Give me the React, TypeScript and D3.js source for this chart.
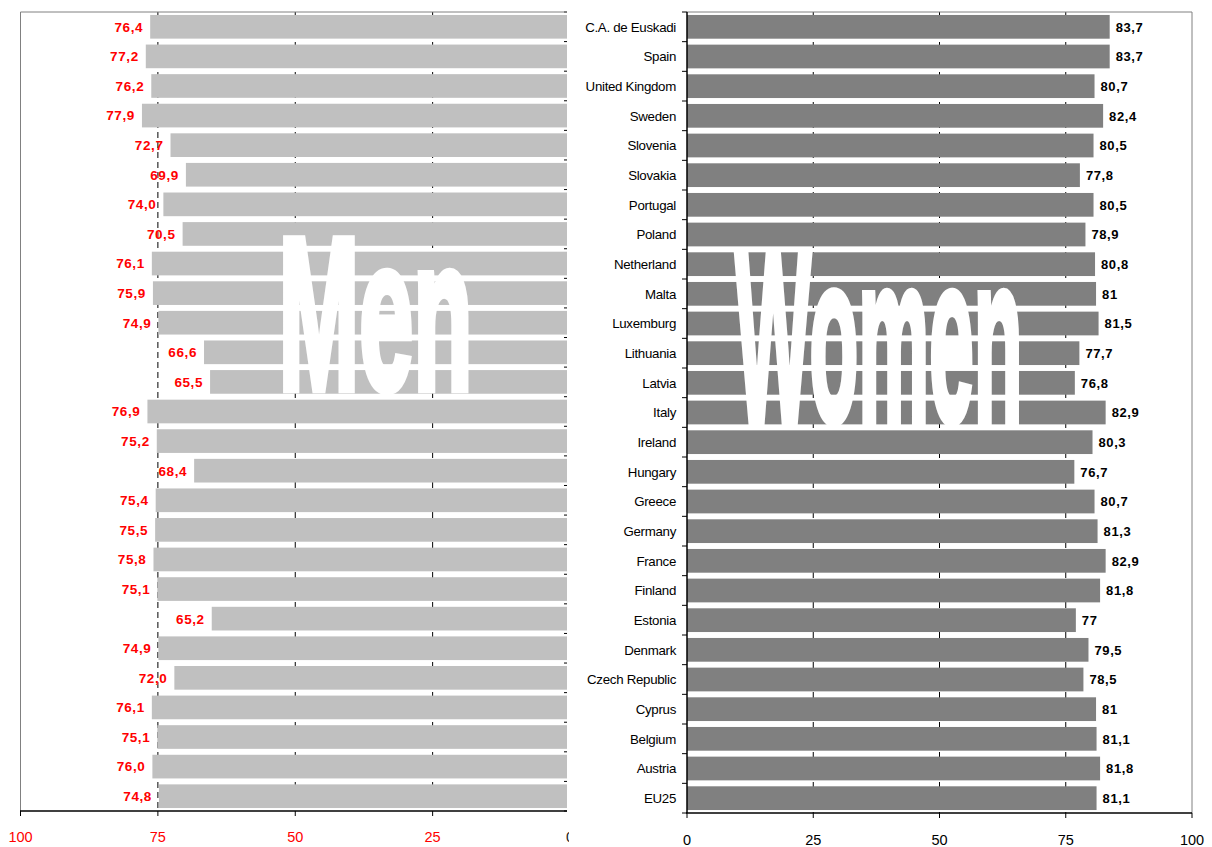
import React from "react";
import * as d3 from "d3";

// Life expectancy at birth, by country (top to bottom)
const countries = [
  "C.A. de Euskadi", "Spain", "United Kingdom", "Sweden", "Slovenia", "Slovakia",
  "Portugal", "Poland", "Netherland", "Malta", "Luxemburg", "Lithuania", "Latvia",
  "Italy", "Ireland", "Hungary", "Greece", "Germany", "France", "Finland",
  "Estonia", "Denmark", "Czech Republic", "Cyprus", "Belgium", "Austria", "EU25",
];

const men = [
  76.4, 77.2, 76.2, 77.9, 72.7, 69.9, 74.0, 70.5, 76.1, 75.9, 74.9, 66.6, 65.5,
  76.9, 75.2, 68.4, 75.4, 75.5, 75.8, 75.1, 65.2, 74.9, 72.0, 76.1, 75.1, 76.0, 74.8,
];

const women = [
  83.7, 83.7, 80.7, 82.4, 80.5, 77.8, 80.5, 78.9, 80.8, 81, 81.5, 77.7, 76.8,
  82.9, 80.3, 76.7, 80.7, 81.3, 82.9, 81.8, 77, 79.5, 78.5, 81, 81.1, 81.8, 81.1,
];

const valueTicks = [0, 25, 50, 75, 100];
const gridTicks = [25, 50, 75];

const W = 1212;
const H = 847;

const TOP = 12;
const LEFT_BOTTOM = 811;
const RIGHT_BOTTOM = 813;
const LEFT_CLIP = 567;
const LEFT_LABEL_CLIP = 569;

const fmtMen = (v: number) => v.toFixed(1).replace(".", ",");
const fmtWomen = (v: number) => String(v).replace(".", ",");

const FONT = "'Liberation Sans', Arial, sans-serif";

export default function App() {
  // Men panel: reversed value axis, clipped on the right
  const xMen = d3.scaleLinear().domain([100, 0]).range([20.5, 570]);
  const yMen = d3
    .scaleBand<string>()
    .domain(countries)
    .range([TOP, LEFT_BOTTOM])
    .paddingInner(0.2)
    .paddingOuter(0.1);

  // Women panel
  const xWomen = d3.scaleLinear().domain([0, 100]).range([687, 1192]);
  const yWomen = d3
    .scaleBand<string>()
    .domain(countries)
    .range([TOP, RIGHT_BOTTOM])
    .paddingInner(0.2)
    .paddingOuter(0.1);

  const boundaries = (y: d3.ScaleBand<string>, top: number, bottom: number) => {
    const s = y.step();
    const pts = [top];
    countries.slice(1).forEach((c) => pts.push((y(c) as number) - (s * y.paddingInner()) / 2));
    pts.push(bottom);
    return pts;
  };

  const menBounds = boundaries(yMen, TOP, LEFT_BOTTOM);
  const womenBounds = boundaries(yWomen, TOP, RIGHT_BOTTOM);

  return (
    <svg
      width={W}
      height={H}
      style={{ position: "absolute", left: 0, top: 0, background: "#fff" }}
      fontFamily={FONT}
    >
      <defs>
        <clipPath id="menClip">
          <rect x={0} y={0} width={LEFT_CLIP} height={H} />
        </clipPath>
        <clipPath id="menLabelClip">
          <rect x={0} y={0} width={LEFT_LABEL_CLIP} height={H} />
        </clipPath>
      </defs>

      {/* ---------- Men ---------- */}
      <g clipPath="url(#menClip)">
        {gridTicks.map((t) => (
          <line
            key={"mg" + t}
            x1={xMen(t)}
            x2={xMen(t)}
            y1={TOP}
            y2={LEFT_BOTTOM}
            stroke="#000"
            strokeWidth={1}
            strokeDasharray="6,4"
          />
        ))}
        {countries.map((c, i) => (
          <rect
            key={"mb" + c}
            x={xMen(men[i])}
            y={yMen(c)}
            width={xMen(0) - xMen(men[i])}
            height={yMen.bandwidth()}
            fill="#C0C0C0"
          />
        ))}
        {menBounds.map((b, i) => (
          <line key={"mt" + i} x1={564} x2={570} y1={b} y2={b} stroke="#000" strokeWidth={1} />
        ))}
        {/* frame */}
        <line x1={20.5} x2={570} y1={TOP} y2={TOP} stroke="#808080" strokeWidth={1} />
        <line x1={20.5} x2={20.5} y1={TOP} y2={LEFT_BOTTOM} stroke="#808080" strokeWidth={1} />
        <line x1={20} x2={570} y1={LEFT_BOTTOM} y2={LEFT_BOTTOM} stroke="#000" strokeWidth={1.5} />
        {valueTicks.map((t) => (
          <line
            key={"mx" + t}
            x1={xMen(t)}
            x2={xMen(t)}
            y1={LEFT_BOTTOM}
            y2={LEFT_BOTTOM + 5}
            stroke="#000"
            strokeWidth={1}
          />
        ))}
        {countries.map((c, i) => (
          <text
            key={"mv" + c}
            x={xMen(men[i]) - 7}
            y={(yMen(c) as number) + yMen.bandwidth() / 2}
            dy="0.36em"
            textAnchor="end"
            fontSize={13.5}
            fontWeight="bold"
            letterSpacing={0.6}
            fill="#FF0000"
          >
            {fmtMen(men[i])}
          </text>
        ))}
        <text
          x={278.5}
          y={389}
          fontSize={217}
          fontWeight="bold"
          fill="#fff"
          stroke="#fff"
          strokeWidth={8.5}
          strokeLinejoin="miter"
          textLength={194}
          lengthAdjust="spacingAndGlyphs"
        >
          Men
        </text>
      </g>
      <g clipPath="url(#menLabelClip)">
        {valueTicks.map((t) => (
          <text
            key={"ml" + t}
            x={xMen(t)}
            y={842}
            textAnchor="middle"
            fontSize={14.5}
            fill={t === 0 ? "#222" : "#FF0000"}
          >
            {t}
          </text>
        ))}
      </g>

      {/* ---------- Women ---------- */}
      <g>
        {gridTicks.map((t) => (
          <line
            key={"wg" + t}
            x1={xWomen(t)}
            x2={xWomen(t)}
            y1={TOP}
            y2={RIGHT_BOTTOM}
            stroke="#000"
            strokeWidth={1}
            strokeDasharray="6,4"
          />
        ))}
        {countries.map((c, i) => (
          <rect
            key={"wb" + c}
            x={xWomen(0)}
            y={yWomen(c)}
            width={xWomen(women[i]) - xWomen(0)}
            height={yWomen.bandwidth()}
            fill="#808080"
          />
        ))}
        <line x1={687} x2={1192} y1={TOP} y2={TOP} stroke="#808080" strokeWidth={1} />
        <line x1={1192} x2={1192} y1={TOP} y2={RIGHT_BOTTOM} stroke="#808080" strokeWidth={1} />
        <line x1={687} x2={687} y1={TOP} y2={RIGHT_BOTTOM} stroke="#000" strokeWidth={1.5} />
        <line x1={686} x2={1192} y1={RIGHT_BOTTOM} y2={RIGHT_BOTTOM} stroke="#000" strokeWidth={1.5} />
        {womenBounds.map((b, i) => (
          <line key={"wt" + i} x1={682} x2={687} y1={b} y2={b} stroke="#000" strokeWidth={1} />
        ))}
        {valueTicks.map((t) => (
          <line
            key={"wx" + t}
            x1={xWomen(t)}
            x2={xWomen(t)}
            y1={RIGHT_BOTTOM}
            y2={RIGHT_BOTTOM + 5}
            stroke="#000"
            strokeWidth={1}
          />
        ))}
        {valueTicks.map((t) => (
          <text
            key={"wl" + t}
            x={xWomen(t)}
            y={845}
            textAnchor="middle"
            fontSize={14.5}
            fill="#000"
          >
            {t}
          </text>
        ))}
        {countries.map((c) => (
          <text
            key={"wc" + c}
            x={676}
            y={(yWomen(c) as number) + yWomen.bandwidth() / 2}
            dy="0.36em"
            textAnchor="end"
            fontSize={13.3}
            letterSpacing={-0.3}
            fill="#000"
          >
            {c}
          </text>
        ))}
        {countries.map((c, i) => (
          <text
            key={"wv" + c}
            x={xWomen(women[i]) + 6}
            y={(yWomen(c) as number) + yWomen.bandwidth() / 2}
            dy="0.36em"
            textAnchor="start"
            fontSize={13}
            fontWeight="bold"
            letterSpacing={0.6}
            fill="#000"
          >
            {fmtWomen(women[i])}
          </text>
        ))}
        <text
          x={735.5}
          y={421}
          fontSize={239}
          fontWeight="bold"
          fill="#fff"
          stroke="#fff"
          strokeWidth={8.5}
          strokeLinejoin="miter"
          textLength={287}
          lengthAdjust="spacingAndGlyphs"
        >
          Women
        </text>
      </g>
    </svg>
  );
}
